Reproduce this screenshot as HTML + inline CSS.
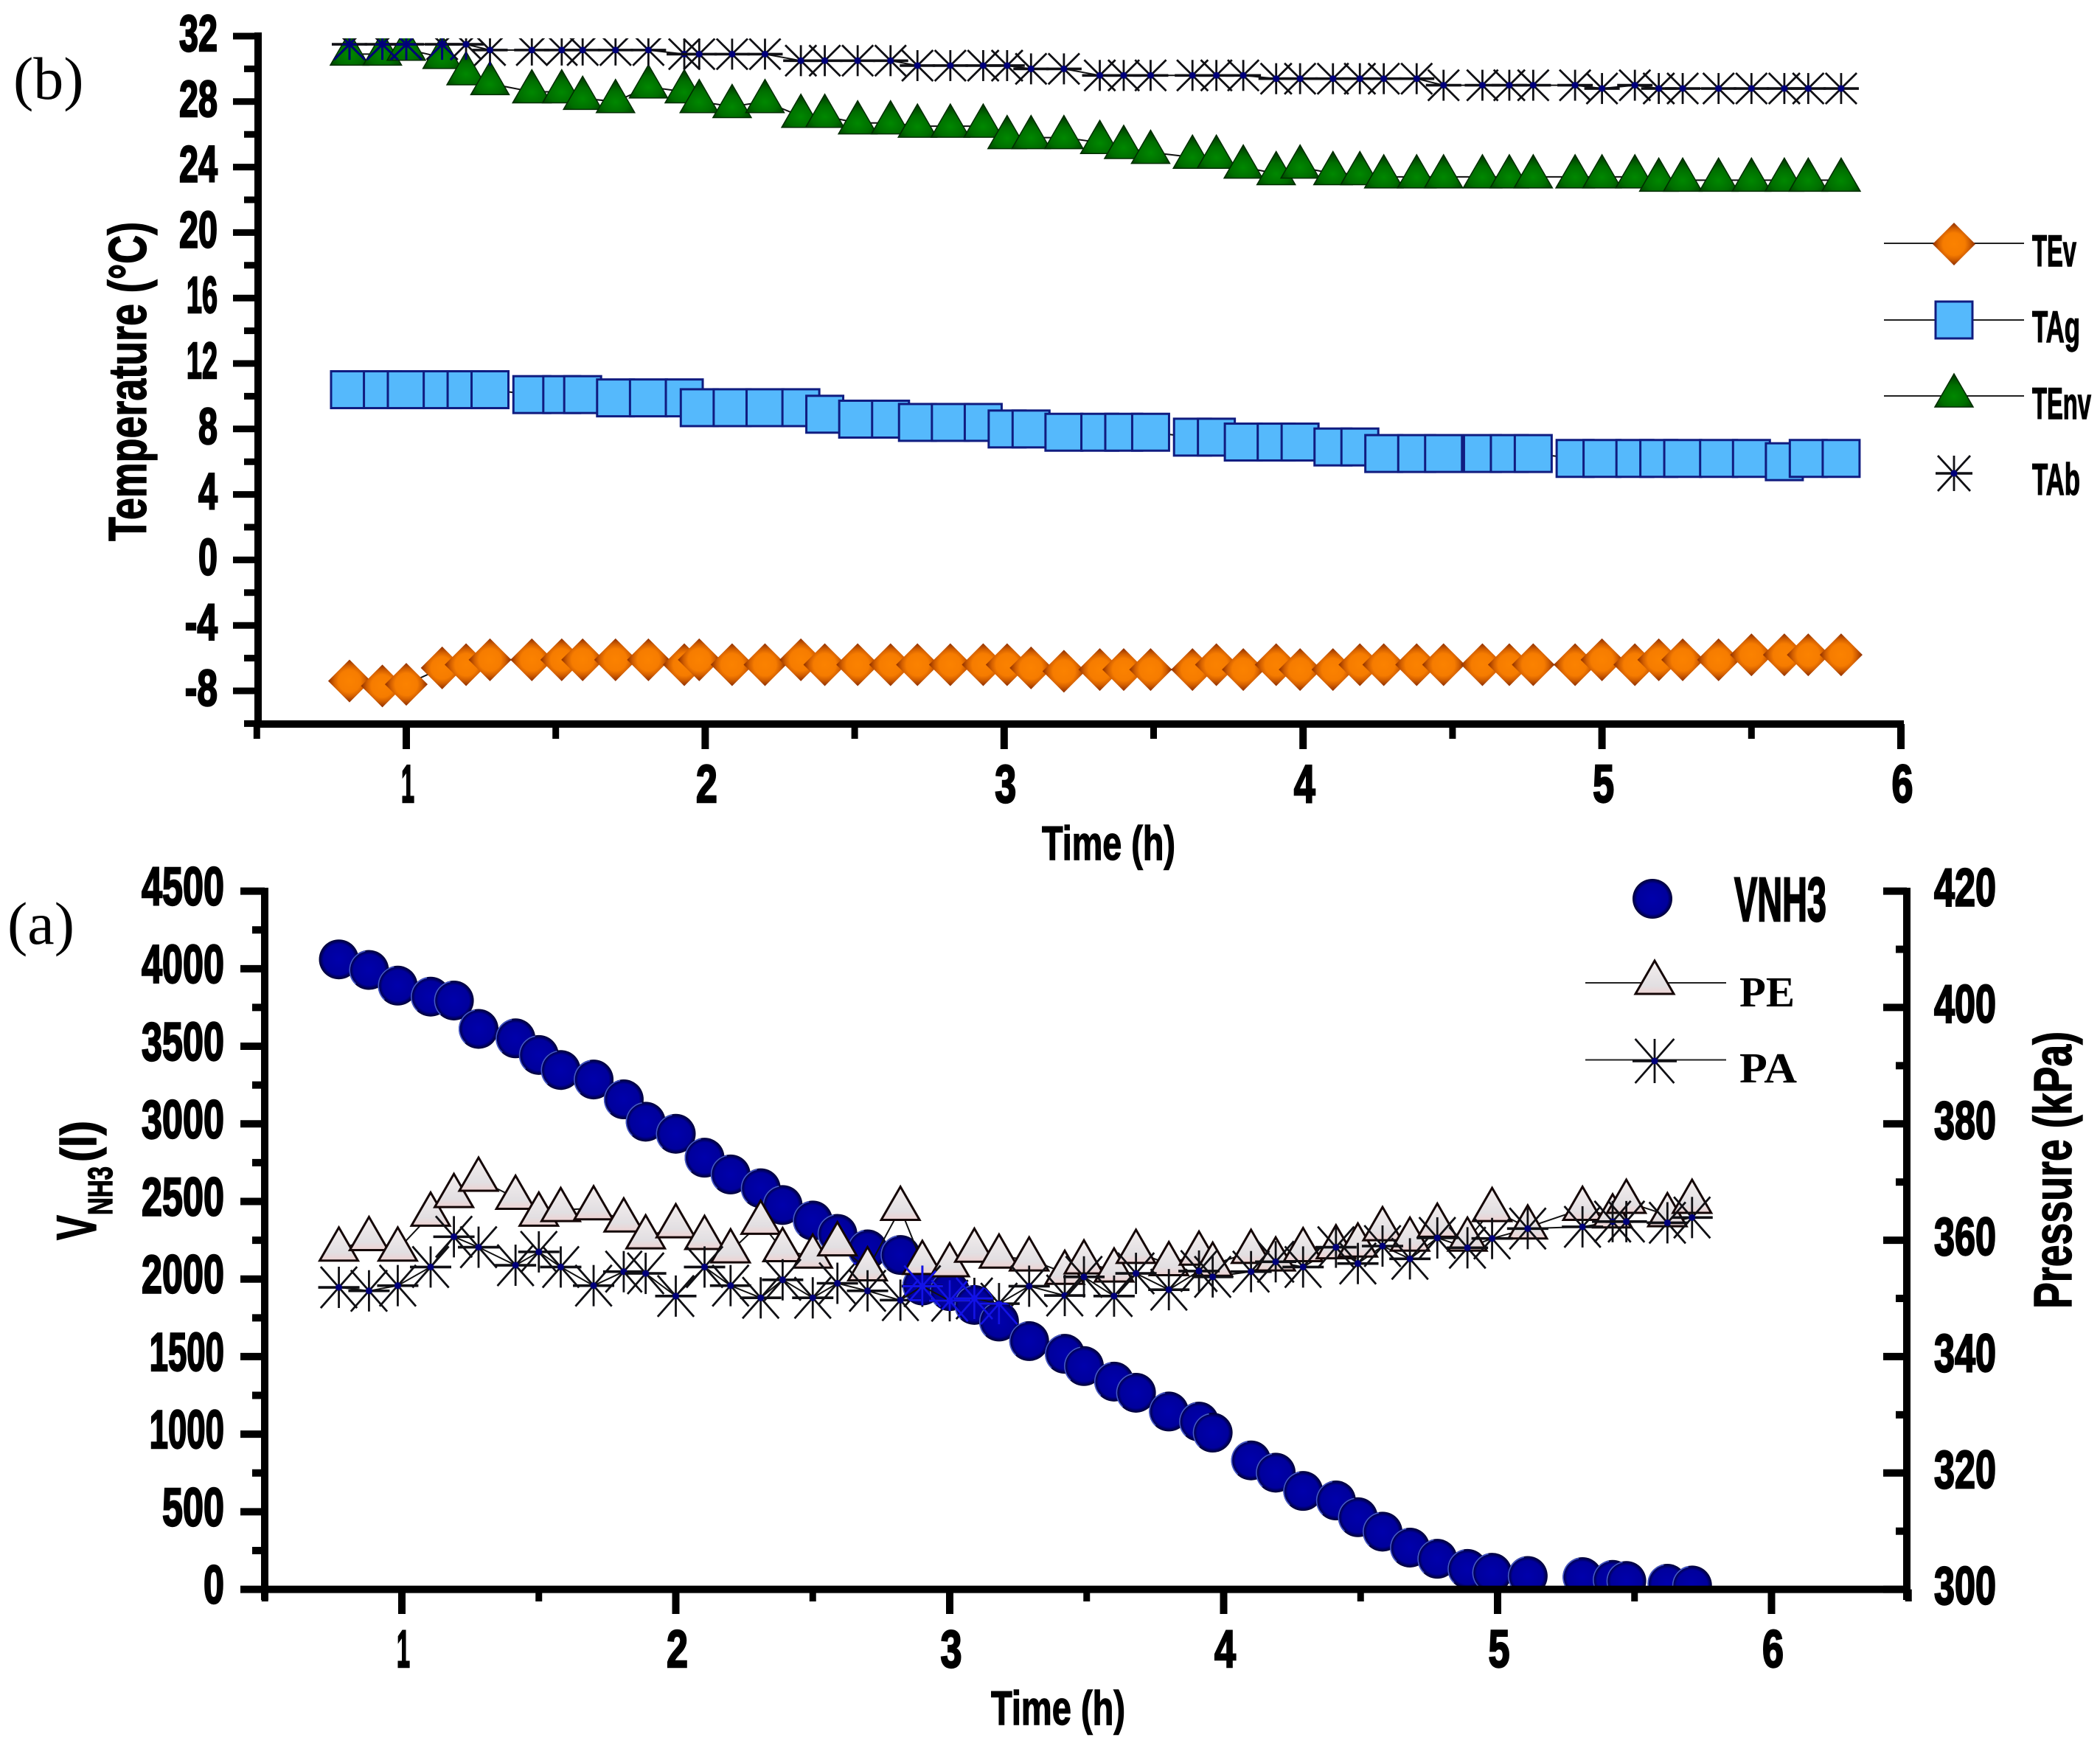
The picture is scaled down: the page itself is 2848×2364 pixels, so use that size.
<!DOCTYPE html>
<html lang="en">
<head>
<meta charset="utf-8">
<title>Temperature and pressure charts</title>
<style>
html,body{margin:0;padding:0;background:#fff;}
svg{display:block;}
.cond{font-family:"Liberation Sans",sans-serif;font-weight:700;fill:#000;stroke:#000;stroke-width:1.4px;}
.tick{font-family:"Liberation Sans",sans-serif;font-weight:700;fill:#000;stroke:#000;stroke-width:2.4px;}
.serif{font-family:"Liberation Serif",serif;fill:#000;}
.serifb{font-family:"Liberation Serif",serif;font-weight:700;fill:#000;}
</style>
</head>
<body>
<svg id="chart" width="2848" height="2364" viewBox="0 0 2848 2364" xmlns="http://www.w3.org/2000/svg">
<defs id="defs">
<radialGradient id="gDia" cx="50%" cy="50%" r="50%"><stop offset="0%" stop-color="#fb8200"/><stop offset="52%" stop-color="#f67c00"/><stop offset="72%" stop-color="#d46000"/><stop offset="100%" stop-color="#8c2e00"/></radialGradient>
<radialGradient id="gCir" cx="50%" cy="50%" r="52%"><stop offset="0%" stop-color="#0000ac"/><stop offset="74%" stop-color="#00009c"/><stop offset="100%" stop-color="#00001e"/></radialGradient>
<radialGradient id="gTri" cx="50%" cy="68%" r="62%"><stop offset="0%" stop-color="#008800"/><stop offset="55%" stop-color="#006e00"/><stop offset="100%" stop-color="#003c00"/></radialGradient>
<linearGradient id="gPe" x1="0" y1="0" x2="0" y2="1"><stop offset="0%" stop-color="#f4eeee"/><stop offset="75%" stop-color="#e2dfe2"/><stop offset="100%" stop-color="#eed2d2"/></linearGradient>
<clipPath id="clipA"><rect x="361" y="1190" width="2226" height="966"/></clipPath>
<clipPath id="clipB"><rect x="355" y="52" width="2200" height="925"/></clipPath>
</defs>

<g id="panel-b">
  <g id="b-axes"></g>
  <g id="b-series" clip-path="url(#clipB)"></g>
  <text class="serif" x="18" y="134" font-size="82">(b)</text>
  <text class="cond" x="1413" y="1166" font-size="65" textLength="181" lengthAdjust="spacingAndGlyphs">Time (h)</text>
  <text class="cond" transform="translate(198 734) rotate(-90)" font-size="72" textLength="433" lengthAdjust="spacingAndGlyphs">Temperature (°C)</text>
  <g id="b-legend">
    <text class="cond" x="2756" y="361" font-size="60" textLength="60" lengthAdjust="spacingAndGlyphs">TEv</text>
    <text class="cond" x="2756" y="464" font-size="60" textLength="65" lengthAdjust="spacingAndGlyphs">TAg</text>
    <text class="cond" x="2756" y="568" font-size="60" textLength="80" lengthAdjust="spacingAndGlyphs">TEnv</text>
    <text class="cond" x="2756" y="671" font-size="60" textLength="65" lengthAdjust="spacingAndGlyphs">TAb</text>
  </g>
</g>

<g id="panel-a">
  <g id="a-series" clip-path="url(#clipA)"></g>
  <g id="a-axes"></g>
  <text class="serif" x="10" y="1280" font-size="82">(a)</text>
  <text class="cond" x="1344" y="2339" font-size="65" textLength="182" lengthAdjust="spacingAndGlyphs">Time (h)</text>
  <g>
    <text class="cond" transform="translate(130 1682) rotate(-90)" font-size="76" textLength="34" lengthAdjust="spacingAndGlyphs">V</text>
    <text class="cond" transform="translate(152 1648) rotate(-90)" font-size="46" textLength="66" lengthAdjust="spacingAndGlyphs">NH3</text>
    <text class="cond" transform="translate(130 1576) rotate(-90)" font-size="68" textLength="56" lengthAdjust="spacingAndGlyphs">(l)</text>
  </g>
  <text class="cond" transform="translate(2809 1775) rotate(-90)" font-size="72" textLength="376" lengthAdjust="spacingAndGlyphs">Pressure (kPa)</text>
  <g id="a-legend">
    <text class="tick" x="2352" y="1249" font-size="84" textLength="125" lengthAdjust="spacingAndGlyphs">VNH3</text>
    <text class="serifb" x="2359" y="1365" font-size="58" textLength="75" lengthAdjust="spacingAndGlyphs">PE</text>
    <text class="serifb" x="2359" y="1468" font-size="58" textLength="78" lengthAdjust="spacingAndGlyphs">PA</text>
  </g>
</g>
</svg>

<script>
// ---- panel (b) data ----
const timesB = [0.81,0.92,1.0,1.12,1.2,1.28,1.42,1.52,1.59,1.7,1.81,1.93,1.98,2.09,2.2,2.32,2.4,2.51,2.62,2.71,2.82,2.93,3.01,3.09,3.2,3.32,3.4,3.49,3.63,3.71,3.8,3.91,3.99,4.1,4.19,4.27,4.38,4.47,4.6,4.69,4.77,4.91,5.0,5.11,5.19,5.27,5.39,5.5,5.61,5.69,5.8];
const tempTEv = [-7.4,-7.7,-7.6,-6.6,-6.4,-6.1,-6.1,-6.1,-6.1,-6.1,-6.1,-6.4,-6.1,-6.4,-6.4,-6.1,-6.4,-6.4,-6.4,-6.4,-6.4,-6.4,-6.4,-6.6,-6.8,-6.7,-6.7,-6.7,-6.7,-6.4,-6.7,-6.4,-6.7,-6.7,-6.4,-6.4,-6.4,-6.4,-6.4,-6.4,-6.4,-6.4,-6.1,-6.4,-6.1,-6.1,-6.1,-5.8,-5.8,-5.8,-5.8];
const tempTAg = [10.4,10.4,10.4,10.4,10.4,10.4,10.1,10.1,10.1,9.9,9.9,9.9,9.3,9.3,9.3,9.3,8.9,8.6,8.6,8.4,8.4,8.4,8.0,8.0,7.8,7.8,7.8,7.8,7.5,7.5,7.2,7.2,7.2,6.9,6.9,6.5,6.5,6.5,6.5,6.5,6.5,6.2,6.2,6.2,6.2,6.2,6.2,6.2,6.0,6.2,6.2];
const tempTEnv = [30.9,30.9,31.2,30.7,29.7,29.1,28.6,28.6,28.2,28.0,28.9,28.6,28.0,27.7,28.0,27.1,27.1,26.7,26.7,26.5,26.5,26.5,25.8,25.8,25.8,25.5,25.2,24.9,24.6,24.6,24.0,23.6,24.0,23.6,23.6,23.4,23.4,23.4,23.4,23.4,23.4,23.4,23.4,23.4,23.2,23.2,23.2,23.2,23.2,23.2,23.2];
const tempTAb = [31.5,31.5,31.5,31.5,31.5,31.15,31.15,31.15,31.15,31.15,31.15,30.9,30.9,30.9,30.9,30.5,30.5,30.5,30.5,30.2,30.2,30.2,30.2,30.0,30.0,29.6,29.6,29.6,29.6,29.6,29.6,29.4,29.4,29.4,29.4,29.4,29.4,29.0,29.0,29.0,29.0,29.0,28.8,29.0,28.8,28.8,28.8,28.8,28.8,28.8,28.8];
const tempTicks = [32,28,24,20,16,12,8,4,0,-4,-8];
const timeTicksB = [1,2,3,4,5,6];

// ---- panel (a) data ----
const timesA = [0.77,0.88,0.985,1.105,1.19,1.28,1.415,1.5,1.58,1.7,1.81,1.89,2.0,2.105,2.2,2.31,2.39,2.5,2.59,2.7,2.82,2.9,3.0,3.09,3.18,3.29,3.42,3.49,3.6,3.68,3.8,3.91,3.96,4.1,4.19,4.29,4.41,4.49,4.58,4.68,4.78,4.89,4.98,5.11,5.31,5.42,5.47,5.62,5.71];
const volumeNH3 = [4060,3992,3891,3820,3795,3612,3551,3444,3347,3286,3158,3014,2936,2782,2674,2585,2477,2377,2291,2191,2155,1958,1922,1833,1726,1600,1518,1439,1339,1267,1146,1081,1010,831,752,634,573,465,372,269,197,132,107,86,79,61,54,36,25];
const pressurePE = [358.4,360.2,358.4,364.4,367.6,370.4,367.3,364.4,365.2,365.5,363.4,360.5,362.4,360.4,358.1,363,358.3,357.2,359.3,355,365.4,356.1,355.7,358.2,357.2,356.7,354.4,356.2,354.8,358,355.9,357.7,355.8,358,356.7,358.3,358.8,359.1,361.9,360.1,362.5,360.1,365.2,362.2,365.4,364.1,366.6,364.3,366.6];
const pressurePA = [351.9,351.3,352.2,355.4,360.6,358.8,355.7,358,355.4,352.2,354.6,354.3,350.4,355.4,352.2,350.1,353.2,350.1,352.6,351.3,349.7,352.1,349.6,350,349.1,352.1,350.5,353.7,350.4,354.3,351.5,354.7,353.7,354.6,356.3,355.4,358.8,356,359,356.8,360.4,358.7,360.3,362,362.3,363.2,363.2,363,363.9];
const volumeTicks = [0,500,1000,1500,2000,2500,3000,3500,4000,4500];
const pressureTicks = [300,320,340,360,380,400,420];
const timeTicksA = [1,2,3,4,5,6];

// ---- axis functions ----
function xB(t){return 551+(t-1)*405.4;}
function yB(v){return 49+(32-v)*22.2;}
function xA(t){return 545+(t-1)*371.5;}
function yV(v){return 2155.6-v*947/4500;}
function yP(p){return 2155.6-(p-300)*947/120;}

const NS='http://www.w3.org/2000/svg';
function mk(tag,parent,name,attrs){
  const el=document.createElementNS(NS,tag);
  
  
  for(const k in attrs){el.setAttribute(k,attrs[k]);}
  parent.appendChild(el);
  return el;
}
function line(parent,name,x1,y1,x2,y2,w,col){
  return mk('line',parent,name,{x1:x1,y1:y1,x2:x2,y2:y2,stroke:col||'#000','stroke-width':w});
}
function glyphWidth(str,unit){
  let w=0;
  for(const c of str){w+= c==='1'?0.62*unit : c==='-'?0.7*unit : unit;}
  return w;
}
function label(parent,name,str,x,y,size,unit,anchor){
  const el=mk('text',parent,name,{x:x,y:y,'font-size':size,'text-anchor':anchor,class:'tick',textLength:glyphWidth(str,unit).toFixed(1),lengthAdjust:'spacingAndGlyphs'});
  el.textContent=str;
  return el;
}

// ---- markers ----
function diamond(p,name,x,y){
  const r=29;
  return mk('polygon',p,name,{points:`${x-r},${y} ${x},${y-r} ${x+r},${y} ${x},${y+r}`,fill:'url(#gDia)'});
}
function square(p,name,x,y){
  return mk('rect',p,name,{x:x-25,y:y-25,width:50,height:50,fill:'#55b9fc',stroke:'#101c80','stroke-width':3});
}
function triPoints(x,y){
  return `${x-26},${y+15} ${x},${y-30} ${x+26},${y+15}`;
}
function triangle(p,name,x,y){
  return mk('polygon',p,name,{points:triPoints(x,y),fill:'url(#gTri)',stroke:'#002c00','stroke-width':1.5});
}
function peTriangle(p,name,x,y){
  return mk('polygon',p,name,{points:triPoints(x,y),fill:'url(#gPe)',stroke:'#140606','stroke-width':3});
}
function star(p,name,x,y,rx,ry,col,bar){
  const g=mk('g',p,name,{});
  const c=col||'#101014';
  line(g,'star-vertical-arm',x,y-ry,x,y+ry,2.8,c);
  line(g,'star-diagonal-arm',x-rx*0.88,y-ry,x+rx*0.88,y+ry,2.8,c);
  line(g,'star-diagonal-arm',x-rx*0.88,y+ry,x+rx*0.88,y-ry,2.8,c);
  line(g,'star-horizontal-arm',x-rx,y,x+rx,y,bar||3.6,c);
  mk('circle',g,'star-center',{cx:x,cy:y,r:4.5,fill:col||'#00007a'});
  return g;
}
function circleM(p,name,x,y,arc){
  const g=mk('g',p,name,{});
  mk('circle',g,'circle-body',{cx:x,cy:y,r:27,fill:'url(#gCir)'});
  if(arc){
    mk('path',g,'circle-highlight',{d:`M ${x-18} ${y+19} A 26 26 0 0 1 ${x-5} ${y-25.5}`,fill:'none',stroke:'#4458cc','stroke-width':1.6});
  }
  return g;
}
function polyline(p,name,xs,ys,w){
  const pts=xs.map((x,i)=>x.toFixed(1)+','+ys[i].toFixed(1)).join(' ');
  return mk('polyline',p,name,{points:pts,fill:'none',stroke:'#111','stroke-width':w||2});
}

// ---- panel (b) axes ----
const bAxes=document.getElementById('b-axes');
line(bAxes,'y-axis-line-b',350,44,350,987,10);
line(bAxes,'x-axis-line-b',345,982,2582,982,10);
tempTicks.forEach(v=>{
  const y=yB(v);
  line(bAxes,'y-major-tick',316,y,350,y,9);
  label(bAxes,'y-tick-label',String(v),295,y+20,70,26,'end');
  line(bAxes,'y-minor-tick',331,yB(v-2),350,yB(v-2),9);
});
timeTicksB.forEach(t=>{
  const x=xB(t);
  line(bAxes,'x-major-tick',x,982,x,1016,10);
  label(bAxes,'x-tick-label',String(t),x+2,1088,72,29,'middle');
  line(bAxes,'x-minor-tick',xB(t-0.5),982,xB(t-0.5),1002,9);
});

// ---- panel (b) series ----
const bS=document.getElementById('b-series');
const xsB=timesB.map(xB);
polyline(bS,'line-tev',xsB,tempTEv.map(yB));
polyline(bS,'line-tag',xsB,tempTAg.map(yB));
polyline(bS,'line-tenv',xsB,tempTEnv.map(yB));
polyline(bS,'line-tab',xsB,tempTAb.map(yB));
timesB.forEach((t,i)=>{diamond(bS,'tev-point',xB(t),yB(tempTEv[i]));});
timesB.forEach((t,i)=>{square(bS,'tag-point',xB(t),yB(tempTAg[i]));});
const triClip=mk('clipPath',document.getElementById('defs'),'triangle-overlap-clip',{id:'clipTriangles'});
timesB.forEach((t,i)=>{
  triangle(bS,'tenv-point',xB(t),yB(tempTEnv[i]));
  mk('polygon',triClip,'triangle-overlap-shape',{points:triPoints(xB(t),yB(tempTEnv[i]))});
});
timesB.forEach((t,i)=>{star(bS,'tab-point',xB(t),yB(tempTAb[i]),24,21);});
const triOverlap=mk('g',bS,'tab-points-over-triangles',{'clip-path':'url(#clipTriangles)'});
timesB.forEach((t,i)=>{star(triOverlap,'tab-point-overlap',xB(t),yB(tempTAb[i]),24,21,'#00007a',3);});

// ---- panel (b) legend ----
const bL=document.getElementById('b-legend');
line(bL,'legend-line-tev',2555,330,2745,330,2,'#222');
diamond(bL,'legend-marker-tev',2650,331);
line(bL,'legend-line-tag',2555,434,2745,434,2,'#222');
square(bL,'legend-marker-tag',2650,434);
line(bL,'legend-line-tenv',2555,537,2745,537,2,'#222');
triangle(bL,'legend-marker-tenv',2650,537);
star(bL,'legend-marker-tab',2650,642,25,24);

// ---- panel (a) axes ----
const aAxes=document.getElementById('a-axes');
line(aAxes,'y-axis-line-left',359,1204,359,2170,10);
line(aAxes,'y-axis-line-right',2586,1204,2586,2170,10);
line(aAxes,'x-axis-line-a',354,2155.6,2591,2155.6,10);
volumeTicks.forEach(v=>{
  const y=yV(v);
  line(aAxes,'left-major-tick',326,y,359,y,10);
  label(aAxes,'left-tick-label',String(v),304,y+19,73,28,'end');
  if(v<4500){line(aAxes,'left-minor-tick',342,yV(v+250),359,yV(v+250),10);}
});
pressureTicks.forEach(p=>{
  const y=yP(p);
  line(aAxes,'right-major-tick',2554,y,2586,y,10);
  label(aAxes,'right-tick-label',String(p),2623,y+20,72,28,'start');
  if(p<420){line(aAxes,'right-minor-tick',2571,yP(p+10),2586,yP(p+10),10);}
});
timeTicksA.forEach(t=>{
  const x=xA(t);
  line(aAxes,'x-major-tick',x,2155.6,x,2189,10);
  label(aAxes,'x-tick-label',String(t),x+2,2261,71,29,'middle');
  line(aAxes,'x-minor-tick',xA(t-0.5),2155.6,xA(t-0.5),2172,9);
});
line(aAxes,'x-minor-tick',xA(6.5),2155.6,xA(6.5),2172,9);

// ---- panel (a) series ----
const aS=document.getElementById('a-series');
const xsA=timesA.map(xA);
const overlapClip=mk('clipPath',document.getElementById('defs'),'circle-overlap-clip',{id:'clipCircles'});
timesA.forEach((t,i)=>{
  circleM(aS,'vnh3-point',xA(t),yV(volumeNH3[i]),i>0);
  mk('circle',overlapClip,'circle-overlap-shape',{cx:xA(t),cy:yV(volumeNH3[i]),r:27});
});
polyline(aS,'line-pe',xsA,pressurePE.map(yP),2);
polyline(aS,'line-pa',xsA,pressurePA.map(yP),2);
timesA.forEach((t,i)=>{peTriangle(aS,'pe-point',xA(t),yP(pressurePE[i]));});
timesA.forEach((t,i)=>{star(aS,'pa-point',xA(t),yP(pressurePA[i]),28,28);});
const overlapGroup=mk('g',aS,'pa-points-over-circles',{'clip-path':'url(#clipCircles)'});
timesA.forEach((t,i)=>{star(overlapGroup,'pa-point-overlap',xA(t),yP(pressurePA[i]),28,28,'#1212e8',3);});

// ---- panel (a) legend ----
const aL=document.getElementById('a-legend');
circleM(aL,'legend-marker-vnh3',2241,1219,false);
line(aL,'legend-line-pe',2150,1333,2341,1333,2,'#222');
peTriangle(aL,'legend-marker-pe',2244,1333);
line(aL,'legend-line-pa',2150,1437.5,2341,1437.5,2,'#222');
star(aL,'legend-marker-pa',2244,1439,30,30);
</script>
</body>
</html>
